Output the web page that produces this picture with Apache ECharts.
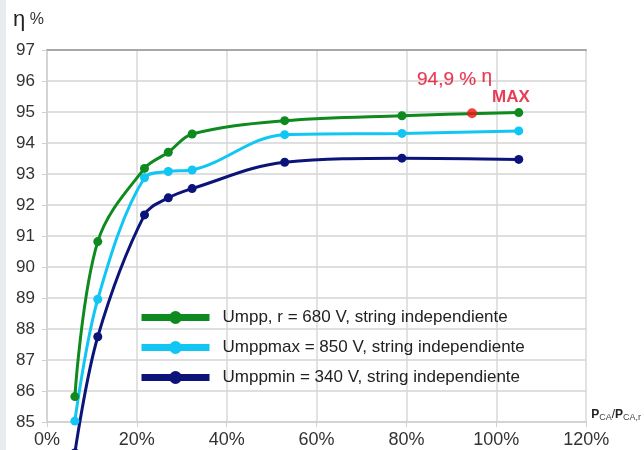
<!DOCTYPE html>
<html><head><meta charset="utf-8">
<script src="https://cdn.jsdelivr.net/npm/echarts@6/dist/echarts.min.js"></script>
<style>html,body{margin:0;padding:0;background:#fff}#c{width:644px;height:450px}</style>
</head><body><div id="c"></div>
<script>
// data
var loadPct = [6.2, 11.3, 21.7, 27.0, 32.3, 52.9, 79.0, 105.0];
var etaUmpp = [85.82, 90.82, 93.18, 93.70, 94.29, 94.72, 94.88, 94.98];
var etaUmppMax = [85.03, 88.96, 92.88, 93.08, 93.13, 94.27, 94.31, 94.39];
var etaUmppMin = [84.0, 87.75, 91.68, 92.23, 92.53, 93.38, 93.51, 93.47];
var maxPoint = [94.6, 94.96];
var seriesNames = ['Umpp, r = 680 V, string independiente', 'Umppmax = 850 V, string independiente', 'Umppmin = 340 V, string independiente'];
var xTicks = [0, 20, 40, 60, 80, 100, 120];
var yTicks = [85, 97];

function pairs(xs, ys) { return xs.map(function (x, i) { return [x, ys[i]]; }); }

var FONT = 'Liberation Sans';
var colGreen = '#0f8a1f', colCyan = '#12c6f4', colNavy = '#0d1479', colRed = '#e30b2b';

var chart = echarts.init(document.getElementById('c'), null, { renderer: 'canvas' });
chart.setOption({
  animation: false,
  textStyle: { fontFamily: FONT },
  title: {
    text: '{e|η}{p| %}', left: 8, top: 4,
    textStyle: { fontWeight: 'normal', rich: {
      e: { fontSize: 22, color: '#222', fontFamily: FONT, fontWeight: 'normal' },
      p: { fontSize: 16, color: '#333', fontFamily: FONT, fontWeight: 'normal' } } }
  },
  graphic: [{ type: 'rect', left: 0, top: 0, shape: { width: 6, height: 450 }, style: { fill: '#e9ecef' }, z: -1 }],
  grid: { left: 47, right: 57, top: 50, bottom: 28 },
  legend: {
    data: seriesNames, orient: 'vertical', left: 138, top: 309, itemGap: 13, padding: 0,
    itemWidth: 68, itemHeight: 16,
    textStyle: { fontSize: 17, color: '#222', fontFamily: FONT, padding: [0, 0, 0, 8] },
    lineStyle: { width: 7 }
  },
  xAxis: [{
    type: 'value', min: xTicks[0], max: xTicks[xTicks.length - 1], interval: 20,
    axisLine: { show: true, lineStyle: { color: '#cfcfcf', width: 1.5 } },
    axisTick: { show: true, length: 5, lineStyle: { color: '#cfcfcf' } },
    splitLine: { show: true, lineStyle: { color: '#d9d9d9', width: 1.5 } },
    axisLabel: { formatter: '{value}%', fontSize: 18, color: '#333', margin: 9, fontFamily: FONT },
    name: '{p|P}{s|CA}{q|/}{p|P}{s|CA,r}', nameLocation: 'end', nameGap: 5,
    nameTextStyle: { verticalAlign: 'bottom', padding: [0, 0, 0, 0], rich: {
      p: { fontSize: 12, fontWeight: 'bold', color: '#222', fontFamily: FONT },
      q: { fontSize: 12, color: '#222', fontFamily: FONT },
      s: { fontSize: 9, color: '#444', fontFamily: FONT, padding: [5, 0, 0, 0] } } }
  }, {
    type: 'value', position: 'top', min: 0, max: 120, interval: 20,
    axisLine: { show: true, lineStyle: { color: '#a8a8a8', width: 2 } },
    axisTick: { show: false }, axisLabel: { show: false }, splitLine: { show: false }
  }],
  yAxis: {
    type: 'value', min: yTicks[0], max: yTicks[1], interval: 1,
    axisLine: { show: true, lineStyle: { color: '#cfcfcf', width: 1.5 } },
    axisTick: { show: true, length: 5, lineStyle: { color: '#cfcfcf' } },
    splitLine: { show: true, lineStyle: { color: '#d4d4d4', width: 1.5 } },
    axisLabel: { fontSize: 17, color: '#333', margin: 12, fontFamily: FONT }
  },
  series: [
    { name: seriesNames[0], type: 'line', data: pairs(loadPct, etaUmpp), smooth: 0.35, symbol: 'circle', symbolSize: 9,
      lineStyle: { color: colGreen, width: 3 }, itemStyle: { color: colGreen }, z: 4 },
    { name: seriesNames[1], type: 'line', data: pairs(loadPct, etaUmppMax), smooth: 0.35, symbol: 'circle', symbolSize: 9,
      lineStyle: { color: colCyan, width: 3 }, itemStyle: { color: colCyan }, z: 3 },
    { name: seriesNames[2], type: 'line', data: pairs(loadPct, etaUmppMin), smooth: 0.35, symbol: 'circle', symbolSize: 9, clip: false,
      lineStyle: { color: colNavy, width: 3 }, itemStyle: { color: colNavy }, z: 2 },
    { name: 'max', type: 'scatter', data: [maxPoint], symbol: 'circle', symbolSize: 10, z: 5,
      itemStyle: { color: '#f01414' },
      label: { show: true, position: [-50, -35], align: 'left', formatter: '{a|94,9 % }{e|η}\n{g|}{m|MAX}',
        rich: {
          a: { fontSize: 19, color: colRed, fontFamily: FONT, lineHeight: 16, verticalAlign: 'bottom', textBorderColor: colRed, textBorderWidth: 0.2 },
          e: { fontSize: 19, color: colRed, fontFamily: FONT, lineHeight: 16, verticalAlign: 'bottom', padding: [0, 0, 3, 0], textBorderColor: colRed, textBorderWidth: 0.2 },
          g: { width: 75, lineHeight: 17 },
          m: { fontSize: 17, color: colRed, fontFamily: FONT, fontWeight: 'bold', lineHeight: 17 }
        } } }
  ]
});
</script></body></html>
